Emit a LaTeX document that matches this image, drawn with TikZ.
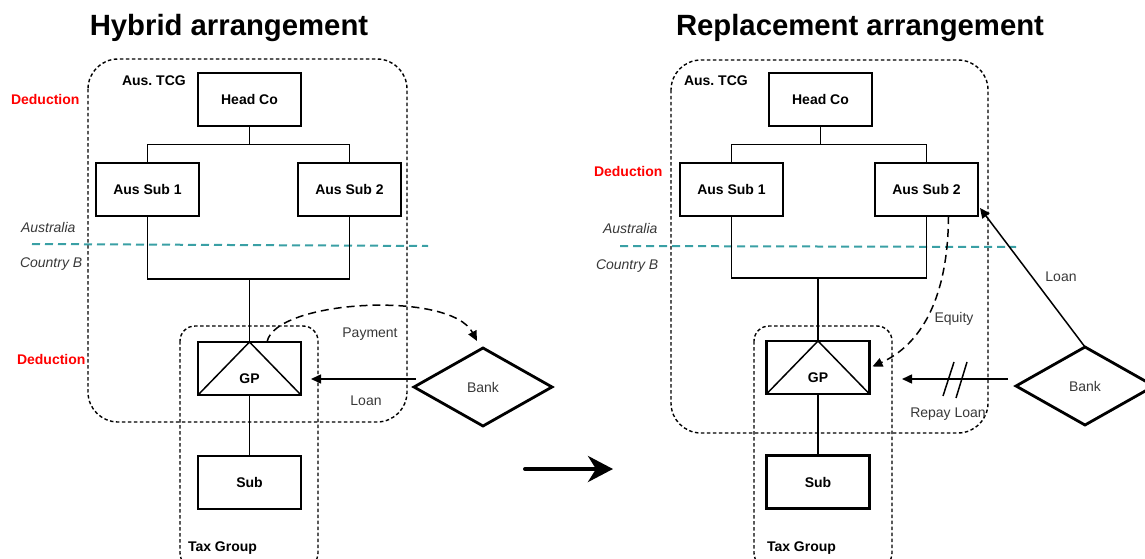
\documentclass[tikz,border=0pt]{standalone}
\usepackage{fontspec}
\setmainfont{Liberation Sans}
\usetikzlibrary{arrows.meta,shapes.geometric,calc}
\definecolor{tealline}{RGB}{58,160,165}
\begin{document}
\begin{tikzpicture}[x=1pt,y=-1pt,
  every node/.style={inner sep=0pt, outer sep=0pt},
  lbl/.style={font=\fontsize{14}{16}\selectfont, text=black!78, text height=10pt, text depth=0pt},
  blbl/.style={font=\fontsize{14}{16}\selectfont\bfseries, text height=10pt, text depth=0pt},
  ilbl/.style={font=\fontsize{14}{16}\selectfont\itshape, text=black!78, text height=10pt, text depth=0pt, anchor=west},
  ded/.style={blbl, text=red, anchor=west},
  ttl/.style={font=\fontsize{29.3}{32}\selectfont\bfseries, text height=21pt, text depth=0pt},
  ent/.style={draw, line width=2.6pt, minimum width=103pt, minimum height=53pt, font=\fontsize{14}{16}\selectfont\bfseries},
  bankd/.style={diamond, draw, line width=2.8pt, minimum width=138pt, minimum height=78pt, font=\fontsize{14}{16}\selectfont, text=black!78},
  conn/.style={line width=1.5pt},
  grp/.style={dash pattern=on 3.5pt off 2.5pt, line width=1.4pt},
  cborder/.style={dash pattern=on 8pt off 5pt, line width=2pt, draw=tealline},
  flow/.style={dash pattern=on 8pt off 5pt, line width=1.5pt},
  arr/.style={-{Triangle[length=10pt,width=9pt]}},
]
\useasboundingbox (0,0) rectangle (1145,559);

% ---------- titles ----------
\node[ttl] (t1) at (229,25) {Hybrid arrangement};
\node[ttl] (t2) at (860,25) {Replacement arrangement};

% ---------- LEFT ----------
\draw[grp, rounded corners=30pt] (88,59) rectangle (407,422);
\draw[grp, rounded corners=15pt] (180,326) rectangle (318,568);
\draw[cborder] (32,244) -- (428,246);

\node[ent] (head1) at (249.5,99.5) {Head Co};
\node[ent] (as1a) at (147.5,189.5) {Aus Sub 1};
\node[ent] (as1b) at (349.5,189.5) {Aus Sub 2};
\node[ent] (gp1) at (249.5,368.5) {};
\node[blbl] (gpt1) at (249.5,378) {GP};
\node[ent] (sb1) at (249.5,482.5) {Sub};
\node[bankd] (bank1) at (483,387) {Bank};

\draw[conn] (head1.south) -- ++(0,18.5) coordinate (bar1);
\draw[conn] (as1a.north) |- (bar1) -| (as1b.north);
\draw[conn] (as1a.south) -- ++(0,63) coordinate (lb1) -- (lb1 -| as1b.south) -- (as1b.south);
\draw[conn] (gp1.north) -- (gp1.north |- lb1);
\draw[conn] (gp1.south west) -- (gp1.north) -- (gp1.south east);
\draw[conn] (gp1.south) -- (sb1.north);

\coordinate (pay1s) at ($(gp1.north)+(17.5,0)$);
\coordinate (pay1e) at ($(bank1.north)+(-6,-7)$);
\draw[flow, arr] (pay1s) .. controls (275,300) and (450,290) .. (pay1e);
\coordinate (loan1s) at (416,379);
\coordinate (loan1e) at (311,379);
\draw[conn, arr] (loan1s) -- (loan1e);

\node[blbl, anchor=west] (tcg1) at (122,81) {Aus.\ TCG};
\node[blbl, anchor=west] (tg1) at (188,546) {Tax Group};
\node[ded] (d1a) at (11,100) {Deduction};
\node[ded] (d1b) at (17,359) {Deduction};
\node[ilbl] (au1) at (21,227) {Australia};
\node[ilbl] (cb1) at (20,262) {Country B};
\node[lbl] (payl) at (370,332) {Payment};
\node[lbl] (loanl1) at (366,400) {Loan};

% ---------- middle arrow ----------
\coordinate (ma) at (525,469);
\coordinate (mb) at (613,469);
\draw[line width=4pt, line cap=round, -{Stealth[length=25pt,width=26pt,inset=8pt]}] (ma) -- (mb);

% ---------- RIGHT ----------
\draw[grp, rounded corners=30pt] (671,60) rectangle (988,433);
\draw[grp, rounded corners=15pt] (754,326) rectangle (892,568);
\draw[cborder] (620,246) -- (1016,247);

\node[ent] (head2) at (820.5,99.5) {Head Co};
\node[ent] (as2a) at (731.5,189.5) {Aus Sub 1};
\node[ent] (as2b) at (926.5,189.5) {Aus Sub 2};
\node[ent] (gp2) at (818,367.5) {};
\node[blbl] (gpt2) at (818,377) {GP};
\node[ent] (sb2) at (818,482) {Sub};
\node[bankd] (bank2) at (1085,386) {Bank};

\draw[conn] (head2.south) -- ++(0,18.5) coordinate (bar2);
\draw[conn] (as2a.north) |- (bar2) -| (as2b.north);
\draw[conn] (as2a.south) -- ++(0,62) coordinate (lb2) -- (lb2 -| as2b.south) -- (as2b.south);
\draw[conn] (gp2.north) -- (gp2.north |- lb2);
\draw[conn] (gp2.south west) -- (gp2.north) -- (gp2.south east);
\draw[conn] (gp2.south) -- (sb2.north);

\coordinate (eq2s) at ($(as2b.south)+(22,0)$);
\coordinate (eq2e) at ($(gp2.east)+(3,-1)$);
\draw[flow, arr] (eq2s) .. controls (948,300) and (920,345) .. (eq2e);
\coordinate (loan2e) at ($(as2b.south east)+(2,-8)$);
\draw[conn, arr] (bank2.north) -- (loan2e);
\coordinate (rep2s) at (1008,379);
\coordinate (rep2e) at (902,379);
\draw[conn, arr] (rep2s) -- (rep2e);
\draw[conn] (943,396) -- (954,362);
\draw[conn] (956,398) -- (967,362);

\node[blbl, anchor=west] (tcg2) at (684,81) {Aus.\ TCG};
\node[blbl, anchor=west] (tg2) at (767,546) {Tax Group};
\node[ded] (d2) at (594,171) {Deduction};
\node[ilbl] (au2) at (603,228) {Australia};
\node[ilbl] (cb2) at (596,264) {Country B};
\node[lbl] (eql) at (954,317) {Equity};
\node[lbl] (loanl2) at (1061,276) {Loan};
\node[lbl] (repl) at (948,412) {Repay Loan};
\end{tikzpicture}
\end{document}
